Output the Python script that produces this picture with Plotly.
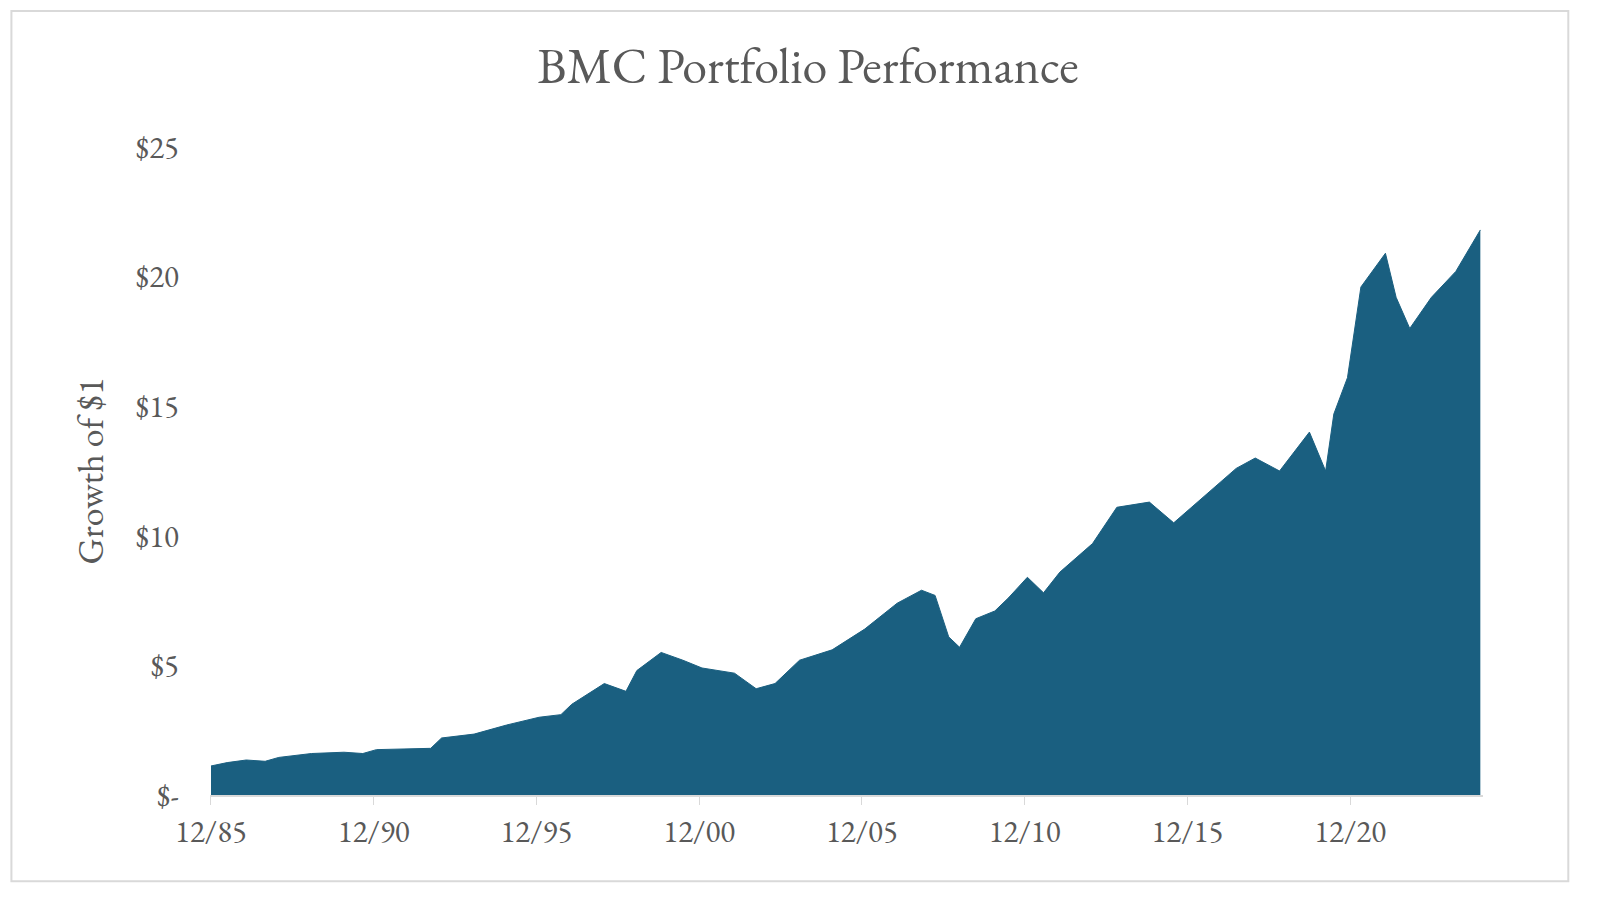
import plotly.graph_objects as go

dates = ["1985-12", "1986-06", "1987-01", "1987-08", "1988-01", "1989-01", "1990-01", "1990-08",
         "1991-01", "1992-01", "1992-09", "1993-01", "1994-01", "1995-01", "1996-01", "1996-09",
         "1997-01", "1998-01", "1998-09", "1999-01", "1999-10", "2000-06", "2001-01", "2002-01",
         "2002-09", "2003-04", "2004-01", "2005-01", "2006-01", "2007-01", "2007-10", "2008-03",
         "2008-08", "2008-12", "2009-06", "2010-01", "2010-06", "2011-01", "2011-07", "2012-01",
         "2013-01", "2013-10", "2014-10", "2015-07", "2016-06", "2017-06", "2018-01", "2018-10",
         "2019-09", "2020-03", "2020-06", "2020-11", "2021-04", "2022-01", "2022-05", "2022-10",
         "2023-06", "2024-03", "2024-12"]
growth = [1.12, 1.25, 1.35, 1.30, 1.45, 1.60, 1.65, 1.60,
          1.75, 1.78, 1.80, 2.20, 2.35, 2.70, 3.00, 3.10,
          3.50, 4.30, 4.00, 4.80, 5.50, 5.20, 4.90, 4.70,
          4.10, 4.30, 5.20, 5.60, 6.40, 7.40, 7.90, 7.70,
          6.10, 5.70, 6.80, 7.10, 7.60, 8.40, 7.80, 8.60,
          9.70, 11.10, 11.30, 10.50, 11.50, 12.60, 13.00, 12.50,
          14.00, 12.50, 14.70, 16.10, 19.60, 20.90, 19.20, 18.00,
          19.20, 20.20, 21.80]

tick_vals = ["1985-12-01", "1990-12-01", "1995-12-01", "2000-12-01",
             "2005-12-01", "2010-12-01", "2015-12-01", "2020-12-01"]
tick_text = ["12/85", "12/90", "12/95", "12/00", "12/05", "12/10", "12/15", "12/20"]
y_vals = [0, 5, 10, 15, 20, 25]
y_text = ["$-", "$5", "$10", "$15", "$20", "$25"]

SERIF = "EB Garamond, Garamond, Liberation Serif, serif"
GREY = "#595959"

fig = go.Figure(go.Scatter(
    x=dates, y=growth, mode="lines", fill="tozeroy",
    line=dict(color="#1a5f80", width=1), fillcolor="#1a5f80",
    hoverinfo="x+y",
))
fig.update_layout(
    width=1600, height=897,
    paper_bgcolor="white", plot_bgcolor="white",
    margin=dict(l=202, r=125, t=139, b=110),
    font=dict(family=SERIF, color=GREY, size=30),
    title=dict(text="BMC Portfolio Performance", x=0.5, xanchor="center",
               y=0.955, font=dict(size=50, color=GREY)),
    showlegend=False,
)
fig.update_xaxes(range=["1985-11-20", "2024-12-31"], tickvals=tick_vals, ticktext=tick_text,
                 showgrid=False, showline=True, linecolor="#d9d9d9", linewidth=2,
                 ticks="outside", tickcolor="#d9d9d9", ticklen=8, tickfont=dict(size=31),
                 automargin=False)
fig.update_yaxes(range=[0, 25], tickvals=y_vals, ticktext=y_text, showgrid=False,
                 zeroline=False, tickfont=dict(size=31), ticklabelstandoff=30, automargin=False,
                 title=dict(text="Growth of $1", font=dict(size=36), standoff=20))
fig.add_shape(type="rect", xref="paper", yref="paper", x0=-0.156, x1=1.067, y0=-0.133, y1=1.21,
              line=dict(color="#d9d9d9", width=2))
fig.write_html("out.html")
